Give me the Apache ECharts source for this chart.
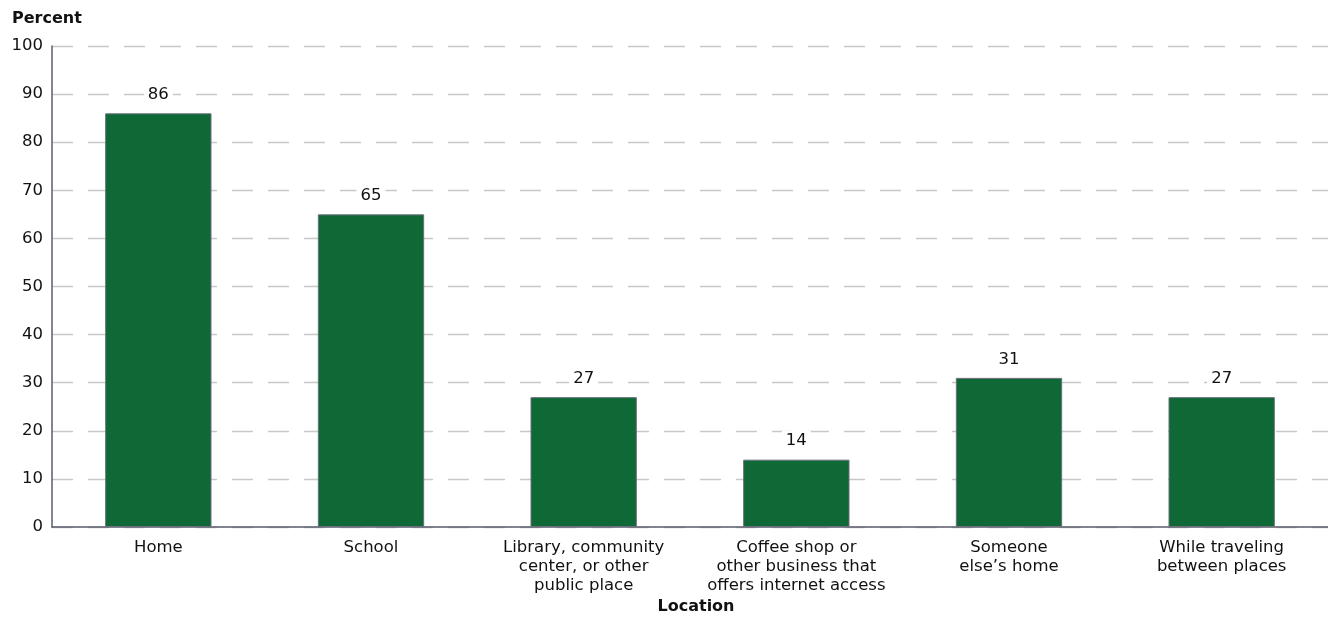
<!DOCTYPE html>
<html><head><meta charset="utf-8">
<script src="https://cdn.jsdelivr.net/npm/echarts@6/dist/echarts.min.js"></script>
<style>html,body{margin:0;padding:0;background:#fff}#c{width:1328px;height:642px}</style>
</head><body><div id="c"></div>
<script>
const categories = ["Home", "School", "Library, community\ncenter, or other\npublic place", "Coffee shop or\nother business that\noffers internet access", "Someone\nelse\u2019s home", "While traveling\nbetween places"];
const values = [86, 65, 27, 14, 31, 27];
const yTicks = [0, 10, 20, 30, 40, 50, 60, 70, 80, 90, 100];
const yTitle = "Percent";
const xTitle = "Location";

const font = "'DejaVu Sans', sans-serif";
const chart = echarts.init(document.getElementById('c'), null, {renderer: 'canvas'});
chart.setOption({
  animation: false,
  textStyle: {fontFamily: font},
  grid: {left: 52, right: 0, top: 46, bottom: 115, containLabel: false},
  title: [
    {text: yTitle, left: 7, top: 6, textStyle: {fontSize: 16, fontWeight: 'bold', color: '#111', fontFamily: font}},
    {text: xTitle, left: 691, top: 594, textAlign: 'center', textStyle: {fontSize: 16, fontWeight: 'bold', color: '#111', fontFamily: font}}
  ],
  xAxis: {
    type: 'category', data: categories,
    axisLine: {lineStyle: {color: '#5a5d6b', width: 1.5}},
    axisTick: {show: false},
    axisLabel: {color: '#111', fontSize: 16.5, lineHeight: 19, margin: 11, interval: 0, fontFamily: font}
  },
  yAxis: {
    type: 'value', min: yTicks[0], max: yTicks[yTicks.length-1], interval: 10,
    axisLine: {show: true, lineStyle: {color: '#5a5d6b', width: 1.5}},
    axisTick: {show: false},
    axisLabel: {color: '#111', fontSize: 16.5, margin: 9, fontFamily: font},
    splitLine: {lineStyle: {color: '#c8c8cc', type: [21, 15], width: 1.3}}
  },
  series: [{
    type: 'bar', data: values, barWidth: '50%',
    itemStyle: {color: '#0e6937', borderColor: '#6b6f7a', borderWidth: 1},
    label: {show: true, position: 'top', distance: 8, color: '#111', fontSize: 16.5, fontFamily: font,
      backgroundColor: '#fff', padding: [2, 4]}
  }]
});
</script></body></html>
